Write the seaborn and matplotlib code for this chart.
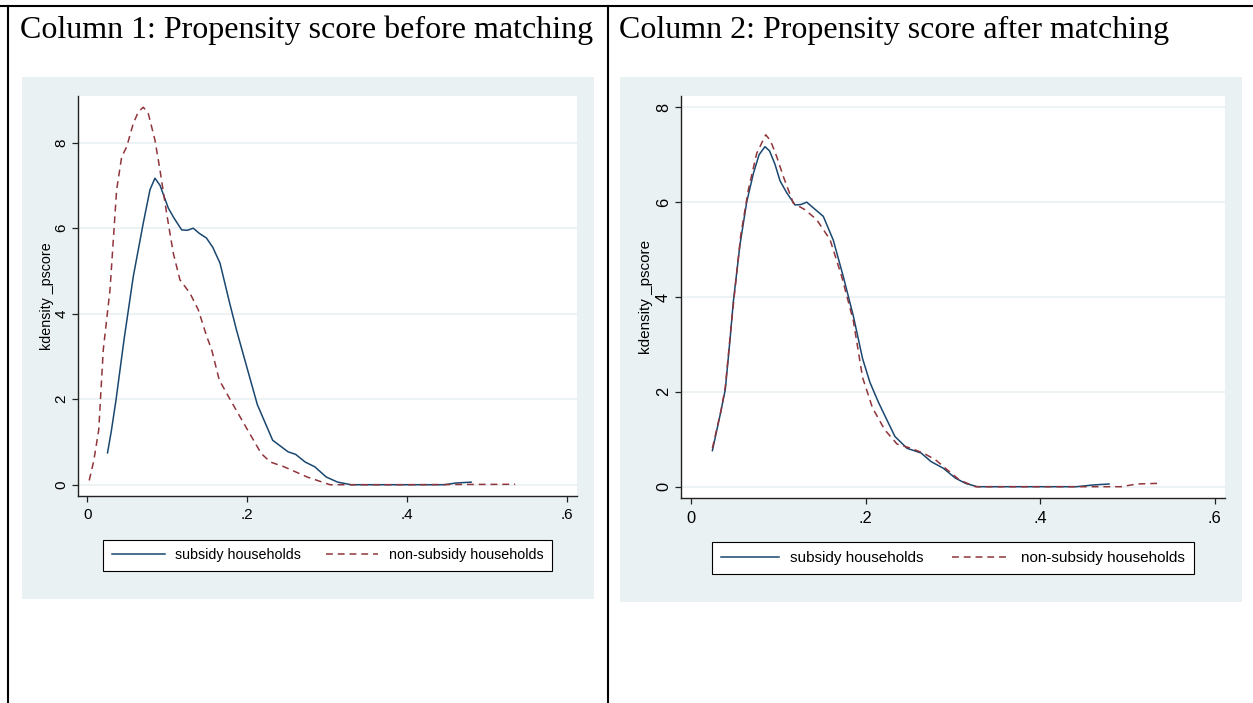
import matplotlib
matplotlib.use("Agg")
import matplotlib.pyplot as plt
import seaborn as sns
from matplotlib.patches import Rectangle
from matplotlib.lines import Line2D

# Values (Stata kdensity curves of the propensity score)
before_sub_x = [0.0253, 0.030, 0.0359, 0.041, 0.046, 0.0575, 0.070, 0.0784, 0.0846, 0.091,
                0.1013, 0.108, 0.118, 0.125, 0.1325, 0.140, 0.149, 0.157, 0.166, 0.178,
                0.1864, 0.198, 0.2127, 0.2318, 0.251, 0.2605, 0.2725, 0.2844, 0.2988, 0.3131,
                0.330, 0.380, 0.447, 0.461, 0.480]
before_sub_y = [0.745, 1.25, 1.98, 2.7, 3.4, 4.87, 6.12, 6.9, 7.17, 7.0,
                6.47, 6.25, 5.96, 5.95, 6.0, 5.88, 5.77, 5.55, 5.18, 4.25,
                3.63, 2.85, 1.87, 1.04, 0.77, 0.71, 0.53, 0.42, 0.18, 0.06,
                0.0, 0.0, 0.0, 0.04, 0.06]

before_non_x = [0.0024, 0.008, 0.0143, 0.020, 0.0284, 0.0367, 0.043, 0.0492, 0.0575, 0.0638,
                0.070, 0.0763, 0.0846, 0.0909, 0.0992, 0.1075, 0.1159, 0.1284, 0.1388, 0.1493,
                0.1555, 0.165, 0.179, 0.198, 0.2175, 0.229, 0.246, 0.2605, 0.275, 0.294,
                0.3035, 0.400, 0.535]
before_non_y = [0.1, 0.55, 1.28, 3.16, 4.56, 6.9, 7.67, 7.9, 8.45, 8.72,
                8.83, 8.68, 8.06, 7.36, 6.35, 5.42, 4.79, 4.48, 4.09, 3.47,
                3.16, 2.45, 1.98, 1.36, 0.73, 0.53, 0.42, 0.30, 0.18, 0.06,
                0.0, 0.0, 0.01]

after_sub_x = [0.0245, 0.0338, 0.0393, 0.0447, 0.0485, 0.0561, 0.0638, 0.0714, 0.078, 0.0848,
               0.090, 0.0962, 0.102, 0.1096, 0.1192, 0.126, 0.1326, 0.1401, 0.1516, 0.163,
               0.1745, 0.186, 0.1966, 0.205, 0.215, 0.2336, 0.2475, 0.2637, 0.275, 0.289,
               0.303, 0.3146, 0.328, 0.400, 0.442, 0.460, 0.479]
after_sub_y = [0.76, 1.55, 2.05, 3.1, 3.9, 5.1, 6.0, 6.6, 7.0, 7.17,
               7.08, 6.8, 6.45, 6.2, 5.94, 5.95, 6.0, 5.88, 5.7, 5.2,
               4.43, 3.6, 2.7, 2.2, 1.77, 1.06, 0.81, 0.71, 0.53, 0.39,
               0.18, 0.07, 0.0, 0.0, 0.0, 0.035, 0.057]

after_non_x = [0.0245, 0.0347, 0.0393, 0.045, 0.050, 0.057, 0.0657, 0.0753, 0.0856, 0.091,
               0.0982, 0.1058, 0.1172, 0.1306, 0.144, 0.1593, 0.1727, 0.186, 0.1966, 0.208,
               0.222, 0.236, 0.252, 0.266, 0.280, 0.294, 0.3077, 0.326, 0.400, 0.4927,
               0.511, 0.534]
after_non_y = [0.81, 1.63, 2.1, 3.2, 4.1, 5.3, 6.26, 7.03, 7.42, 7.3,
               6.96, 6.54, 5.98, 5.84, 5.63, 5.21, 4.43, 3.5, 2.3, 1.66,
               1.2, 0.9, 0.81, 0.71, 0.57, 0.35, 0.14, 0.0, 0.0, 0.0,
               0.057, 0.07]

titles = ["Column 1: Propensity score before matching",
          "Column 2: Propensity score after matching"]
series_labels = ["subsidy households", "non-subsidy households"]
x_ticks = [0, 0.2, 0.4, 0.6]
x_ticklabels = ["0", ".2", ".4", ".6"]
y_ticks = [0, 2, 4, 6, 8]

NAVY = "#1a476f"
MAROON = "#90353b"
PANEL = "#eaf1f3"

W, H = 1253, 703
fig = plt.figure(figsize=(W / 100, H / 100), dpi=100)
fig.patch.set_facecolor("white")
sans = ["Liberation Sans", "DejaVu Sans"]
serif = ["Liberation Serif", "DejaVu Serif"]


def fx(px):
    return px / W


def fy(py):
    return 1 - py / H


# table borders
for seg in [((0, W), (5.5, 5.5)), ((7.5, 7.5), (5.5, H)), ((608, 608), (5.5, H))]:
    fig.add_artist(Line2D([fx(p) for p in seg[0]], [fy(p) for p in seg[1]],
                          color="black", lw=1.5))

# grey graph regions
for (x0, y0, x1, y1) in [(22, 77, 594, 599), (620, 77, 1242, 602)]:
    fig.add_artist(Rectangle((fx(x0), fy(y1)), fx(x1 - x0), (y1 - y0) / H,
                             facecolor=PANEL, edgecolor="none", zorder=0))

# column titles
fig.text(fx(20), fy(38), titles[0], family=serif, fontsize=23, va="baseline")
fig.text(fx(619), fy(38), titles[1], family=serif, fontsize=23, va="baseline")

panels = [
    dict(box=(78.3, 96, 576.7, 495.7), xlim=(-0.01125, 0.612), ylim=(-0.257, 9.092),
         data=[(before_sub_x, before_sub_y), (before_non_x, before_non_y)],
         fs=10.25, tfs=11.0, ylab_x=47, leg=(327.5, 555.3), hl=3.7, cs=1.75),
    dict(box=(680.7, 96, 1224.7, 498.3), xlim=(-0.0118, 0.6115), ylim=(-0.2446, 8.238),
         data=[(after_sub_x, after_sub_y), (after_non_x, after_non_y)],
         fs=11.0, tfs=11.8, ylab_x=646, leg=(953, 558), hl=3.83, cs=1.81),
]

for p in panels:
    x0, y0, x1, y1 = p["box"]
    ax = fig.add_axes([fx(x0), fy(y1), fx(x1 - x0), (y1 - y0) / H])
    ax.set_facecolor("white")
    (sx, sy), (nx, ny) = p["data"]
    sns.lineplot(x=sx, y=sy, ax=ax, color=NAVY, linewidth=1.1, label=series_labels[0])
    sns.lineplot(x=nx, y=ny, ax=ax, color=MAROON, linewidth=1.1,
                 linestyle=(0, (4.5, 3.2)), label=series_labels[1])
    ax.set_xlim(*p["xlim"])
    ax.set_ylim(*p["ylim"])
    ax.set_xticks(x_ticks)
    ax.set_xticklabels(x_ticklabels)
    ax.set_yticks(y_ticks)
    ax.set_yticklabels([str(v) for v in y_ticks], rotation=90, va="center")
    ax.yaxis.grid(True, color=PANEL, lw=1.2)
    ax.set_axisbelow(True)
    for s in ["top", "right"]:
        ax.spines[s].set_visible(False)
    for s in ["left", "bottom"]:
        ax.spines[s].set_color("#222222")
        ax.spines[s].set_linewidth(1.0)
    ax.tick_params(axis="both", length=4.5, width=0.9, color="#222222",
                   labelsize=p["tfs"], direction="out")
    ax.tick_params(axis="x", pad=4.5)
    ax.tick_params(axis="y", pad=2.5)
    for t in ax.get_xticklabels() + ax.get_yticklabels():
        t.set_family(sans)
    ax.set_xlabel("")
    ax.set_ylabel("")
    fig.text(fx(p["ylab_x"]), fy((y0 + y1) / 2), "kdensity _pscore", rotation=90,
             ha="center", va="center", family=sans, fontsize=p["fs"])
    leg = ax.legend(loc="center", bbox_to_anchor=(fx(p["leg"][0]), fy(p["leg"][1])),
                    bbox_transform=fig.transFigure, ncol=2, frameon=True, fancybox=False,
                    edgecolor="black", framealpha=1, borderpad=0.6, borderaxespad=0,
                    handlelength=p["hl"], handletextpad=0.72, columnspacing=p["cs"],
                    prop={"family": sans, "size": p["fs"]})
    leg.get_frame().set_linewidth(0.8)

fig.savefig("out.png", dpi=100)
plt.close(fig)
